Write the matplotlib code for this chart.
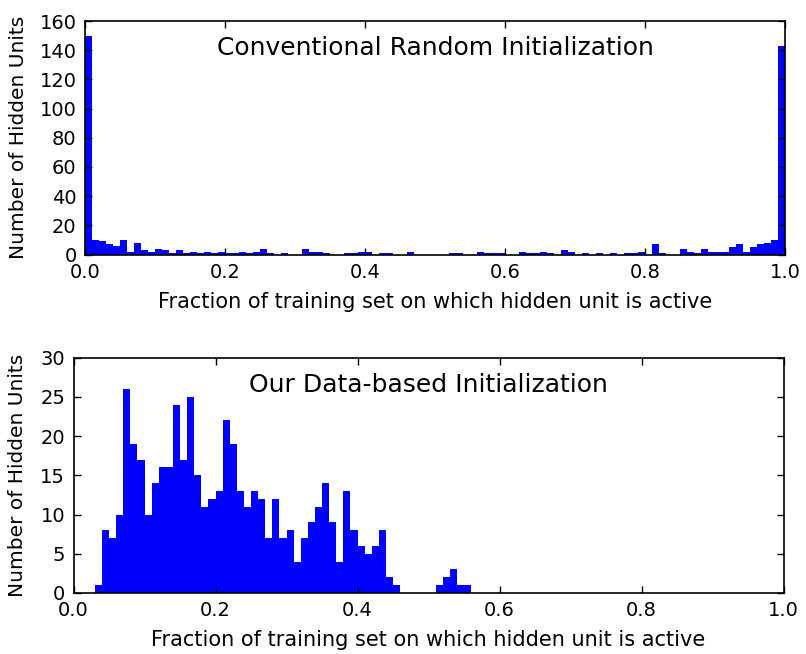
import numpy as np
import matplotlib
matplotlib.use("Agg")
import matplotlib.pyplot as plt

# histogram counts, bins of width 0.01
random_counts = [150, 10, 9, 7, 6, 10, 2, 8, 3, 2,
                 4, 3, 1, 3, 1, 2, 1, 2, 1, 2,
                 1, 1, 2, 1, 2, 4, 1, 0, 1, 0,
                 0, 4, 2, 2, 1, 0, 0, 1, 1, 2,
                 2, 0, 1, 1, 0, 0, 2, 0, 0, 0,
                 0, 0, 1, 1, 0, 0, 2, 1, 1, 1,
                 0, 0, 2, 1, 1, 2, 1, 0, 3, 2,
                 0, 1, 0, 1, 0, 1, 0, 1, 1, 2,
                 0, 7, 1, 0, 0, 4, 2, 1, 4, 2,
                 2, 2, 5, 7, 2, 5, 7, 8, 10, 143]
random_start = 0.0

data_counts = [1, 8, 7, 10, 26, 19, 17, 10, 14, 16,
               16, 24, 17, 25, 15, 11, 12, 13, 22, 19,
               13, 11, 13, 12, 7, 12, 7, 8, 4, 7,
               9, 11, 14, 9, 4, 13, 8, 6, 5, 6,
               8, 2, 1, 0, 0, 0, 0, 0, 1, 2,
               3, 1, 1]
data_start = 0.03

bin_width = 0.01
xlabel = "Fraction of training set on which hidden unit is active"
ylabel = "Number of Hidden Units"
titles = ["Conventional Random Initialization", "Our Data-based Initialization"]
yticks_top = [0, 20, 40, 60, 80, 100, 120, 140, 160]
yticks_bottom = [0, 5, 10, 15, 20, 25, 30]
xticks = [0.0, 0.2, 0.4, 0.6, 0.8, 1.0]


def draw_hist(ax, counts, start, title, yticks, label_x):
    edges = start + bin_width * np.arange(len(counts))
    ax.bar(edges, counts, width=bin_width, align='edge', color='#0000ff',
           edgecolor='none', linewidth=0)
    ax.set_xlim(0, 1)
    ax.set_ylim(yticks[0], yticks[-1])
    ax.set_xticks(xticks)
    ax.set_xticklabels(["%.1f" % t for t in xticks])
    ax.set_yticks(yticks)
    ax.tick_params(direction='in', top=True, right=True, length=5,
                   width=1, labelsize=14, pad=6)
    for s in ax.spines.values():
        s.set_linewidth(1.2)
    ax.text(0.5, 0.885, title, transform=ax.transAxes, ha='center',
            va='center', fontsize=18)
    ax.set_xlabel(xlabel, fontsize=15, labelpad=7)
    ax.set_ylabel(ylabel, fontsize=14.5)
    ax.yaxis.set_label_coords(label_x, 0.5)


if __name__ == "__main__":
    plt.rcParams['font.family'] = ['DejaVu Sans']
    fig = plt.figure(figsize=(8.06, 6.54), dpi=100)

    ax1 = fig.add_axes([0.1055, 0.6108, 0.8685, 0.357])
    draw_hist(ax1, random_counts, random_start, titles[0], yticks_top, -0.082)

    ax2 = fig.add_axes([0.0912, 0.0933, 0.8809, 0.360])
    draw_hist(ax2, data_counts, data_start, titles[1], yticks_bottom, -0.065)

    fig.savefig("out.png", dpi=100)
